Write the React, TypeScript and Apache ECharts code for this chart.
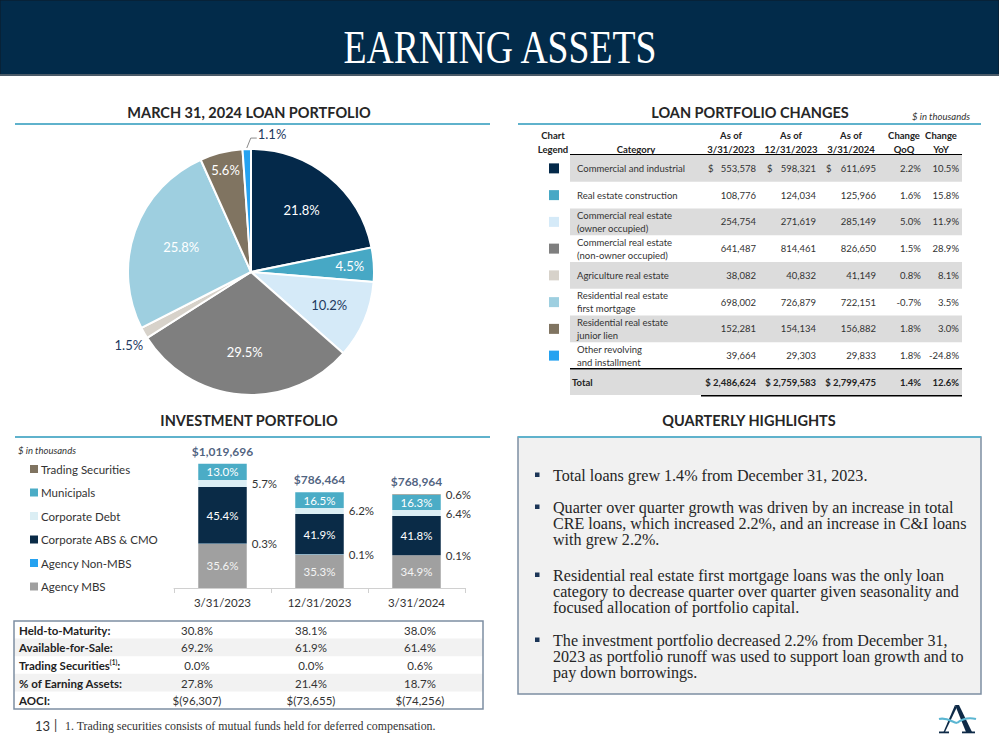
import React, { useEffect, useRef } from "react";
import * as echarts from "echarts";

// ---------- DATA ----------
const loanCategoryLines: string[][] = [
  ["Commercial and industrial"],
  ["Real estate construction"],
  ["Commercial real estate", "(owner occupied)"],
  ["Commercial real estate", "(non-owner occupied)"],
  ["Agriculture real estate"],
  ["Residential real estate", "first mortgage"],
  ["Residential real estate", "junior lien"],
  ["Other revolving", "and installment"],
];
const loans2023Q1 = [553578, 108776, 254754, 641487, 38082, 698002, 152281, 39664];
const loans2023Q4 = [598321, 124034, 271619, 814461, 40832, 726879, 154134, 29303];
const loans2024Q1 = [611695, 125966, 285149, 826650, 41149, 722151, 156882, 29833];
const changeQoQ = ["2.2%", "1.6%", "5.0%", "1.5%", "0.8%", "-0.7%", "1.8%", "1.8%"];
const changeYoY = ["10.5%", "15.8%", "11.9%", "28.9%", "8.1%", "3.5%", "3.0%", "-24.8%"];
const loanTotals = [2486624, 2759583, 2799475];
const totalQoQ = "1.4%";
const totalYoY = "12.6%";
const pieShares = [21.8, 4.5, 10.2, 29.5, 1.5, 25.8, 5.6, 1.1];

const invDates = ["3/31/2023", "12/31/2023", "3/31/2024"];
const invTotals = [1019696, 786464, 768964];
const agencyMBS = [35.6, 35.3, 34.9];
const agencyNonMBS = [0.3, 0.1, 0.1];
const corpABS = [45.4, 41.9, 41.8];
const corpDebt = [5.7, 6.2, 6.4];
const municipals = [13.0, 16.5, 16.3];
const tradingSec = [0.0, 0.0, 0.6];

const heldToMaturity = ["30.8%", "38.1%", "38.0%"];
const availableForSale = ["69.2%", "61.9%", "61.4%"];
const tradingShare = ["0.0%", "0.0%", "0.6%"];
const pctEarningAssets = ["27.8%", "21.4%", "18.7%"];
const aoci = ["$(96,307)", "$(73,655)", "$(74,256)"];

const bullets: string[][] = [
  ["Total loans grew 1.4% from December 31, 2023."],
  [
    "Quarter over quarter growth was driven by an increase in total",
    "CRE loans, which increased 2.2%, and an increase in C&I loans",
    "with grew 2.2%.",
  ],
  [
    "Residential real estate first mortgage loans was the only loan",
    "category to decrease quarter over quarter given seasonality and",
    "focused allocation of portfolio capital.",
  ],
  [
    "The investment portfolio decreased 2.2% from December 31,",
    "2023 as portfolio runoff was used to support loan growth and to",
    "pay down borrowings.",
  ],
];

// ---------- STYLE ----------
const loanColors = ["#04294A", "#47A8C5", "#D5EAF8", "#7F7F7F", "#D7D2CA", "#9ECFE0", "#807461", "#25A2F0"];
const pieLabelRadius = [80, 99, 85, 80, 0, 74, 105, 0];
const NAVY = "#022B4A";
const TEAL_LINE = "#5FB2CC";
const TEXT = "#333333";
const SANS = "Lato";
const SERIF = "Liberation Serif";
const PIE_CX = 251, PIE_CY = 272, PIE_R = 123;

const fmt = (n: number) => n.toLocaleString("en-US");

function txt(text: string, x: number, y: number, o: any = {}) {
  return {
    type: "text",
    x,
    y,
    z: 10,
    style: {
      text,
      fill: o.fill || TEXT,
      fontSize: o.size || 9.5,
      fontFamily: o.family || SANS,
      fontWeight: o.weight || "normal",
      fontStyle: o.style || "normal",
      textAlign: o.align || "left",
      textVerticalAlign: "middle",
    },
  };
}

function buildGraphics() {
  const g: any[] = [];
  // header
  g.push({ type: "rect", shape: { x: 0, y: 0, width: 999, height: 75 }, style: { fill: NAVY, stroke: "#0d1a26", lineWidth: 1 } });
  g.push({ type: "rect", shape: { x: 0, y: 74, width: 999, height: 2 }, style: { fill: "#4a5a68" } });
  g.push({
    type: "text",
    x: 500,
    y: 48,
    scaleX: 0.82,
    z: 10,
    style: { text: "EARNING ASSETS", fill: "#ffffff", fontSize: 46, fontFamily: SERIF, textAlign: "center", textVerticalAlign: "middle" },
  });

  // section titles + underlines
  const titles: [string, number, number][] = [
    ["MARCH 31, 2024 LOAN PORTFOLIO", 249, 112],
    ["LOAN PORTFOLIO CHANGES", 750, 112],
    ["INVESTMENT PORTFOLIO", 249, 420],
    ["QUARTERLY HIGHLIGHTS", 749, 420],
  ];
  titles.forEach(([t, x, y]) => g.push(txt(t, x, y, { size: 14.5, weight: "bold", align: "center", fill: "#262626" })));
  g.push({ type: "rect", shape: { x: 15, y: 123, width: 475, height: 2 }, style: { fill: TEAL_LINE } });
  g.push({ type: "rect", shape: { x: 518, y: 123, width: 463, height: 2 }, style: { fill: TEAL_LINE } });
  g.push(txt("$ in thousands", 970, 116, { style: "italic", align: "right", size: 9.5 }));

  // loan table header
  const hdrY1 = 135, hdrY2 = 149;
  const hdr = (a: string, b: string, x: number) => {
    if (a) g.push(txt(a, x, hdrY1, { weight: "bold", align: "center", fill: "#222" }));
    g.push(txt(b, x, hdrY2, { weight: "bold", align: "center", fill: "#222" }));
  };
  hdr("Chart", "Legend", 553);
  hdr("", "Category", 636);
  hdr("As of", "3/31/2023", 731);
  hdr("As of", "12/31/2023", 791);
  hdr("As of", "3/31/2024", 851);
  hdr("Change", "QoQ", 904);
  hdr("Change", "YoY", 941);
  g.push({ type: "rect", shape: { x: 570, y: 154, width: 392, height: 1 }, style: { fill: "#000" } });

  const rowTop0 = 155, rowH = 26.75;
  loanCategoryLines.forEach((lines, i) => {
    const top = rowTop0 + i * rowH;
    const cy = top + rowH / 2;
    if (i % 2 === 0) g.push({ type: "rect", shape: { x: 570, y: top, width: 392, height: rowH }, style: { fill: "#DCDCDC" } });
    g.push({ type: "rect", shape: { x: 549, y: cy - 5, width: 10, height: 10 }, style: { fill: loanColors[i] }, z: 10 });
    if (lines.length === 1) g.push(txt(lines[0], 577, cy));
    else {
      g.push(txt(lines[0], 577, cy - 6.5));
      g.push(txt(lines[1], 577, cy + 6.5));
    }
    if (i === 0) {
      g.push(txt("$", 708, cy));
      g.push(txt("$", 767, cy));
      g.push(txt("$", 826, cy));
    }
    g.push(txt(fmt(loans2023Q1[i]), 756, cy, { align: "right" }));
    g.push(txt(fmt(loans2023Q4[i]), 816, cy, { align: "right" }));
    g.push(txt(fmt(loans2024Q1[i]), 876, cy, { align: "right" }));
    g.push(txt(changeQoQ[i], 921, cy, { align: "right" }));
    g.push(txt(changeYoY[i], 959, cy, { align: "right" }));
  });
  const totTop = rowTop0 + 8 * rowH;
  g.push({ type: "rect", shape: { x: 570, y: totTop - 1, width: 392, height: 1.5 }, style: { fill: "#000" } });
  g.push({ type: "rect", shape: { x: 570, y: totTop + 1, width: 392, height: 25 }, style: { fill: "#DCDCDC" } });
  const ty = totTop + 13.5;
  g.push(txt("Total", 572, ty, { weight: "bold", fill: "#222" }));
  g.push(txt("$ " + fmt(loanTotals[0]), 756, ty, { weight: "bold", align: "right", fill: "#222" }));
  g.push(txt("$ " + fmt(loanTotals[1]), 816, ty, { weight: "bold", align: "right", fill: "#222" }));
  g.push(txt("$ " + fmt(loanTotals[2]), 876, ty, { weight: "bold", align: "right", fill: "#222" }));
  g.push(txt(totalQoQ, 921, ty, { weight: "bold", align: "right", fill: "#222" }));
  g.push(txt(totalYoY, 959, ty, { weight: "bold", align: "right", fill: "#222" }));
  g.push({ type: "rect", shape: { x: 701, y: totTop + 26, width: 261, height: 1.5 }, style: { fill: "#000" } });

  // investment
  g.push({ type: "rect", shape: { x: 15, y: 436, width: 475, height: 2 }, style: { fill: TEAL_LINE } });
  g.push(txt("$ in thousands", 18, 450, { style: "italic", size: 9.5 }));

  // investment table
  const tx = 14, tyTop = 621, tw = 469, trh = 17.6;
  const rowsLbl = ["Held-to-Maturity:", "Available-for-Sale:", "", "% of Earning Assets:", "AOCI:"];
  const rowsVal = [heldToMaturity, availableForSale, tradingShare, pctEarningAssets, aoci];
  rowsVal.forEach((vals, i) => {
    const top = tyTop + i * trh;
    const cy = top + trh / 2 + 0.5;
    if (i % 2 === 1) g.push({ type: "rect", shape: { x: tx, y: top, width: tw, height: trh }, style: { fill: "#F2F2F2" } });
    if (i === 2) {
      g.push({
        type: "text",
        x: 19,
        y: cy,
        z: 10,
        style: {
          text: "{b|Trading Securities}{s|(1)}{b|:}",
          textVerticalAlign: "middle",
          rich: {
            b: { fontSize: 11.5, fontWeight: "bold", fontFamily: SANS, fill: "#222", color: "#222" },
            s: { fontSize: 6.5, fontWeight: "bold", fontFamily: SANS, fill: "#222", color: "#222", padding: [0, 0, 7, 0] },
          },
        },
      });
    } else g.push(txt(rowsLbl[i], 19, cy, { size: 11.5, weight: "bold", fill: "#222" }));
    g.push(txt(vals[0], 197, cy, { size: 11.5, align: "center" }));
    g.push(txt(vals[1], 311, cy, { size: 11.5, align: "center" }));
    g.push(txt(vals[2], 420, cy, { size: 11.5, align: "center" }));
  });
  g.push({ type: "rect", shape: { x: tx, y: tyTop, width: tw, height: trh * 5 }, style: { fill: "none", stroke: "#7D8EA3", lineWidth: 1.5 }, z: 11 });

  // footer
  g.push(txt("13", 35, 726, { size: 13, fill: "#333" }));
  g.push(txt("|", 54, 725, { size: 13, fill: "#333" }));
  g.push(txt("1. Trading securities consists of mutual funds held for deferred compensation.", 65, 726, { size: 11.9, family: SERIF, fill: "#333" }));

  // highlights
  g.push({ type: "rect", shape: { x: 518, y: 437, width: 463, height: 257 }, style: { fill: "#F1F1F1", stroke: "#7D8EA3", lineWidth: 1.5 } });
  g.push({ type: "rect", shape: { x: 518, y: 436, width: 463, height: 2 }, style: { fill: TEAL_LINE }, z: 5 });
  const startY = [475, 507, 575, 640];
  bullets.forEach((lines, bi) => {
    g.push({ type: "rect", shape: { x: 535, y: startY[bi] - 2.5, width: 4.5, height: 4.5 }, style: { fill: "#1B3557" }, z: 10 });
    lines.forEach((l, li) => g.push(txt(l, 553, startY[bi] + li * 16.3, { size: 16.1, family: SERIF, fill: "#262626" })));
  });

  // logo
  g.push({ type: "polygon", shape: { points: [[955, 705], [959, 705], [972, 732], [966, 732]] }, style: { fill: "#0E2A47" }, z: 10 });
  g.push({ type: "polygon", shape: { points: [[955, 705], [956.5, 708], [945, 732], [943.5, 732]] }, style: { fill: "#0E2A47" }, z: 10 });
  g.push({ type: "rect", shape: { x: 939, y: 731.5, width: 10, height: 1.8 }, style: { fill: "#0E2A47" }, z: 10 });
  g.push({ type: "rect", shape: { x: 962, y: 731.5, width: 13, height: 1.8 }, style: { fill: "#0E2A47" }, z: 10 });
  g.push({
    type: "bezierCurve",
    shape: { x1: 939, y1: 719, cpx1: 947, cpy1: 717, cpx2: 952, cpy2: 722, x2: 957, y2: 723 },
    style: { stroke: "#5BB6D2", lineWidth: 2.2, fill: "none" },
    z: 11,
  });
  g.push({
    type: "bezierCurve",
    shape: { x1: 957, y1: 723, cpx1: 962, cpy1: 719, cpx2: 968, cpy2: 717, x2: 976, y2: 719 },
    style: { stroke: "#5BB6D2", lineWidth: 2.2, fill: "none" },
    z: 11,
  });
  return g;
}

export default function App() {
  const ref = useRef<HTMLDivElement>(null);
  useEffect(() => {
    document.body.style.margin = "0";
    if (!ref.current) return;
    const chart = echarts.init(ref.current, undefined, { renderer: "svg" });

    const pieNames = loanCategoryLines.map((l) => l.join(" "));
    const shareTotal = pieShares.reduce((a, b) => a + b, 0);
    const mids: number[] = [];
    let acc = 0;
    pieShares.forEach((v) => {
      mids.push(acc + v / 2);
      acc += v;
    });
    const midAngle = (i: number) => ((90 - (mids[i] / shareTotal) * 360) * Math.PI) / 180;
    const lblColor = (i: number) => (i === 2 ? "#1F3A5F" : i === 4 || i === 7 ? "#1F3A5F" : "#ffffff");

    const pieData = pieShares.map((v, i) => ({
      name: pieNames[i],
      value: v,
      itemStyle: { color: loanColors[i] },
      label: {
        show: true,
        position: i === 4 || i === 7 ? "outside" : "inside",
        color: lblColor(i),
        fontSize: 13,
        fontFamily: SANS,
        formatter: (p: any) => p.value.toFixed(1) + "%",
      },
      labelLine: { show: i === 7, length: 8, length2: 5, lineStyle: { color: "#8a8a8a", width: 1 } },
    }));

    const invSeries = [
      { name: "Agency MBS", pct: agencyMBS, color: "#A0A0A0", pos: "inside", lc: "#F4F4F4" },
      { name: "Agency Non-MBS", pct: agencyNonMBS, color: "#25A2F0", pos: "right", lc: TEXT },
      { name: "Corporate ABS & CMO", pct: corpABS, color: "#0A2B47", pos: "inside", lc: "#ffffff" },
      { name: "Corporate Debt", pct: corpDebt, color: "#DBEEF4", pos: "right", lc: TEXT },
      { name: "Municipals", pct: municipals, color: "#4BACC6", pos: "inside", lc: "#ffffff" },
      { name: "Trading Securities", pct: tradingSec, color: "#7F7360", pos: "right", lc: TEXT },
    ];

    const option: any = {
      animation: false,
      backgroundColor: "#ffffff",
      textStyle: { fontFamily: SANS },
      graphic: { elements: buildGraphics() },
      legend: {
        orient: "vertical",
        left: 30,
        top: 463,
        padding: 0,
        itemWidth: 8,
        itemHeight: 8,
        itemGap: 11.5,
        icon: "rect",
        selectedMode: false,
        data: ["Trading Securities", "Municipals", "Corporate Debt", "Corporate ABS & CMO", "Agency Non-MBS", "Agency MBS"],
        textStyle: { fontSize: 11.5, color: TEXT, fontFamily: SANS, padding: [0, 0, 0, -2] },
      },
      grid: { left: 174, top: 454, width: 291, height: 134 },
      xAxis: {
        type: "category",
        data: invDates,
        axisLine: { lineStyle: { color: "#D0D0D0" } },
        axisTick: { show: true, length: 5, lineStyle: { color: "#D0D0D0" } },
        axisLabel: { fontSize: 11.5, color: TEXT, margin: 8, fontFamily: SANS },
      },
      yAxis: { type: "value", min: 0, max: 1100000, show: false, splitLine: { show: false } },
      series: [
        {
          type: "pie",
          center: [PIE_CX, PIE_CY],
          radius: [0, PIE_R],
          startAngle: 90,
          clockwise: true,
          avoidLabelOverlap: false,
          itemStyle: { borderColor: "#ffffff", borderWidth: 2 },
          data: pieData,
          labelLayout: (p: any) => {
            const i = p.dataIndex;
            const a = midAngle(i);
            const ex = PIE_CX + PIE_R * Math.cos(a);
            const ey = PIE_CY - PIE_R * Math.sin(a);
            if (i === 4) return { x: ex - 1, y: ey + 12, align: "right", verticalAlign: "middle" };
            if (i === 7)
              return {
                x: ex + 11,
                y: ey - 15,
                align: "left",
                verticalAlign: "middle",
                labelLinePoints: [[ex, ey - 1], [ex + 4, ey - 11], [ex + 10, ey - 11]],
              };
            const r = pieLabelRadius[i];
            return { x: PIE_CX + r * Math.cos(a), y: PIE_CY - r * Math.sin(a), align: "center", verticalAlign: "middle" };
          },
        },
        ...invSeries.map((s) => ({
          type: "bar",
          name: s.name,
          stack: "inv",
          barWidth: "50%",
          itemStyle: { color: s.color },
          data: s.pct.map((p, i) => ({
            value: (invTotals[i] * p) / 100,
            label: {
              show: p > 0,
              position: s.pos,
              distance: 5,
              color: s.lc,
              fontSize: 11.5,
              fontFamily: SANS,
              formatter: () => p.toFixed(1) + "%",
            },
          })),
        })),
        {
          type: "scatter",
          name: "totals",
          symbolSize: 1,
          itemStyle: { color: "transparent" },
          silent: true,
          data: invTotals,
          label: {
            show: true,
            position: "top",
            distance: 6,
            color: "#1F3A5F",
            fontWeight: "bold",
            fontSize: 12,
            fontFamily: SANS,
            formatter: (p: any) => "$" + fmt(p.value),
          },
        },
      ],
    };
    chart.setOption(option);
    return () => chart.dispose();
  }, []);
  return <div ref={ref} style={{ width: 999, height: 750 }} />;
}
